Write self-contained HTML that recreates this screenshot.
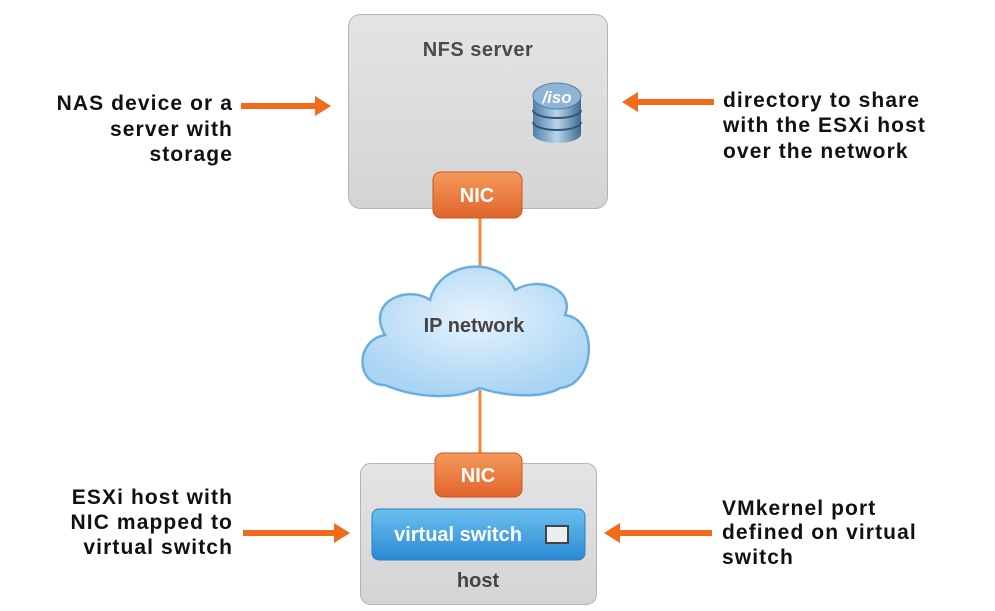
<!DOCTYPE html>
<html><head><meta charset="utf-8"><style>
body{margin:0;background:#fff;width:995px;height:606px;overflow:hidden}
text{font-family:"Liberation Sans",sans-serif;font-weight:bold}
</style></head><body>
<svg width="995" height="606" viewBox="0 0 995 606" xmlns="http://www.w3.org/2000/svg">
<defs>
<linearGradient id="box" x1="0" y1="0" x2="0" y2="1"><stop offset="0" stop-color="#e4e4e4"/><stop offset="1" stop-color="#d4d4d4"/></linearGradient>
<linearGradient id="nic" x1="0" y1="0" x2="0" y2="1"><stop offset="0" stop-color="#f59a5c"/><stop offset="1" stop-color="#e0642a"/></linearGradient>
<linearGradient id="vs" x1="0" y1="0" x2="0" y2="1"><stop offset="0" stop-color="#6cc0f0"/><stop offset="1" stop-color="#2a8ad4"/></linearGradient>
<radialGradient id="cl" cx="0.5" cy="0.4" r="0.6"><stop offset="0" stop-color="#e6f3fd"/><stop offset="1" stop-color="#a9d4f4"/></radialGradient>
<linearGradient id="db" x1="0" y1="0" x2="1" y2="0"><stop offset="0" stop-color="#4f7fa8"/><stop offset="0.5" stop-color="#b9d4ea"/><stop offset="1" stop-color="#3f6a90"/></linearGradient>
</defs>
<line x1="480" y1="215" x2="480" y2="270" stroke="#f08a3c" stroke-width="3"/>
<line x1="480" y1="390" x2="480" y2="456" stroke="#f08a3c" stroke-width="3"/>
<rect x="348.5" y="14.5" width="259" height="194" rx="12" fill="url(#box)" stroke="#b5b5b5"/>
<text x="478" y="56" font-size="20" fill="#4a4a4a" text-anchor="middle" letter-spacing="0.5">NFS server</text>
<g>
<rect x="533" y="96" width="48" height="38" fill="url(#db)"/>
<ellipse cx="557" cy="134" rx="24" ry="9" fill="url(#db)"/>
<path d="M533 110 A24 8 0 0 0 581 110" fill="none" stroke="#2f5578" stroke-width="2"/>
<path d="M533 122 A24 8 0 0 0 581 122" fill="none" stroke="#2f5578" stroke-width="2"/>
<ellipse cx="557" cy="96" rx="24" ry="13" fill="#8fb5d6" stroke="#4f7fa8"/>
<text x="557" y="103" font-size="17" fill="#fff" text-anchor="middle" font-style="italic">/iso</text>
</g>
<rect x="433" y="172" width="89" height="46" rx="8" fill="url(#nic)" stroke="#c8561e"/>
<text x="477" y="202" font-size="20" fill="#fff" text-anchor="middle" font-weight="normal">NIC</text>
<path d="M385 385 C355 385 355 340 385 335 C365 300 410 285 430 300 C440 260 500 255 515 290 C540 275 575 290 565 315 C600 320 595 385 560 388 C540 400 500 395 480 388 C455 400 415 398 385 385 Z" fill="url(#cl)" stroke="#6aaee0" stroke-width="2.5"/>
<text x="474" y="332" font-size="20" fill="#444" text-anchor="middle">IP network</text>
<rect x="360.5" y="463.5" width="236" height="141" rx="10" fill="url(#box)" stroke="#b5b5b5"/>
<rect x="435" y="453" width="87" height="44" rx="8" fill="url(#nic)" stroke="#c8561e"/>
<text x="478" y="482" font-size="20" fill="#fff" text-anchor="middle" font-weight="normal">NIC</text>
<rect x="372" y="509" width="213" height="51" rx="7" fill="url(#vs)" stroke="#2a7fc0"/>
<text x="458" y="541" font-size="20" fill="#fff" text-anchor="middle" font-weight="normal">virtual switch</text>
<rect x="546" y="526" width="22" height="17" fill="#eee" stroke="#444" stroke-width="2"/>
<text x="478" y="587" font-size="20" fill="#444" text-anchor="middle">host</text>
<g fill="#f26a1c">
<rect x="241" y="103" width="76" height="6"/><polygon points="315,96 331,106 315,116"/>
<rect x="636" y="99" width="78" height="6"/><polygon points="638,92 622,102 638,112"/>
<rect x="243" y="530" width="93" height="6"/><polygon points="334,523 350,533 334,543"/>
<rect x="618" y="530" width="94" height="6"/><polygon points="620,523 604,533 620,543"/>
</g>
<g font-size="21" fill="#111" letter-spacing="1.1">
<text x="233" y="110" text-anchor="end">NAS device or a</text>
<text x="233" y="136" text-anchor="end">server with</text>
<text x="233" y="161" text-anchor="end">storage</text>
<text x="723" y="107">directory to share</text>
<text x="723" y="132">with the ESXi host</text>
<text x="723" y="158">over the network</text>
<text x="233" y="504" text-anchor="end">ESXi host with</text>
<text x="233" y="529" text-anchor="end">NIC mapped to</text>
<text x="233" y="554" text-anchor="end">virtual switch</text>
<text x="722" y="515">VMkernel port</text>
<text x="722" y="539">defined on virtual</text>
<text x="722" y="564">switch</text>
</g>
</svg>
</body></html>
